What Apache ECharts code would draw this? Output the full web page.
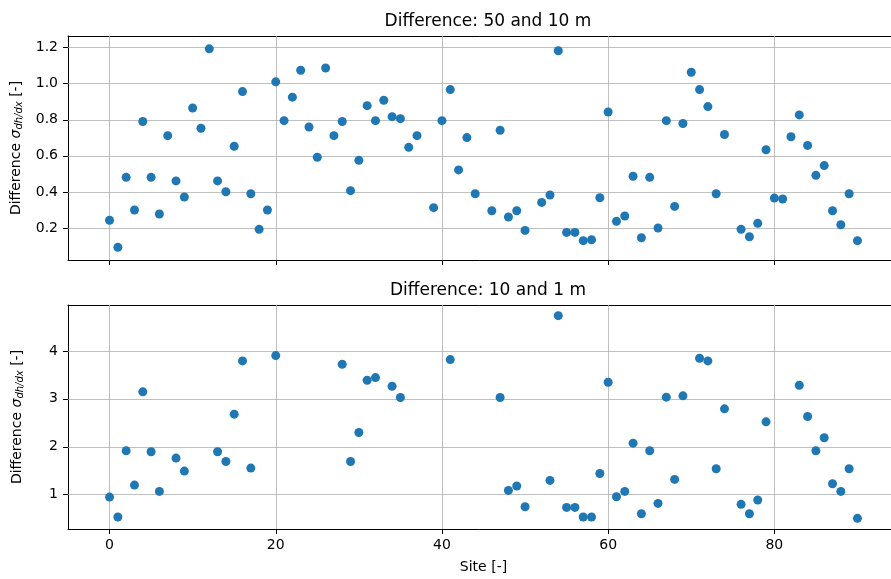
<!DOCTYPE html>
<html><head><meta charset="utf-8">
<script src="https://cdn.jsdelivr.net/npm/echarts@6/dist/echarts.min.js"></script>
<style>html,body{margin:0;padding:0;background:#fff}#c{width:891px;height:579px}</style>
</head><body><div id="c"></div>
<script>
const sites = [0,1,2,3,4,5,6,7,8,9,10,11,12,13,14,15,16,17,18,19,20,21,22,23,24,25,26,27,28,29,30,31,32,33,34,35,36,37,38,39,40,41,42,43,44,45,46,47,48,49,50,51,52,53,54,55,56,57,58,59,60,61,62,63,64,65,66,67,68,69,70,71,72,73,74,75,76,77,78,79,80,81,82,83,84,85,86,87,88,89,90];
const diff50_10 = [0.243,0.093,0.481,0.300,0.790,0.481,0.278,0.712,0.461,0.372,
 0.865,0.753,1.193,0.461,0.401,0.653,0.956,0.390,0.193,0.300,
 1.010,0.795,0.925,1.074,0.760,0.592,1.087,0.712,0.790,0.407,
 0.575,0.878,0.795,0.908,0.817,0.806,0.647,0.712,null,0.313,
 0.795,0.967,0.522,0.701,0.390,null,0.296,0.742,0.261,0.296,
 0.187,null,0.342,0.383,1.182,0.176,0.176,0.130,0.135,0.368,
 0.843,0.237,0.267,0.487,0.146,0.481,0.200,0.795,0.320,0.779,
 1.063,0.967,0.873,0.390,0.718,null,0.193,0.152,0.226,0.634,
 0.366,0.361,0.706,0.827,0.658,0.492,0.546,0.296,0.218,0.390,
 0.130];
const diff10_1 = [0.951,0.535,1.917,1.201,3.146,1.896,1.069,null,1.764,1.493,
 null,null,null,1.896,1.694,2.681,3.792,1.556,null,null,
 3.903,null,null,null,null,null,null,null,3.722,1.694,
 2.299,3.389,3.444,null,3.264,3.028,null,null,null,null,
 null,3.819,null,null,null,null,null,3.028,1.090,1.181,
 0.750,null,null,1.299,4.736,0.736,0.736,0.535,0.535,1.444,
 3.347,0.958,1.069,2.076,0.604,1.917,0.819,3.035,1.319,3.063,
 null,3.847,3.792,1.542,2.792,null,0.799,0.604,0.889,2.521,
 null,null,null,3.285,2.632,1.917,2.188,1.229,1.069,1.542,
 0.507];
const xTicks = [0,20,40,60,80];
const yTicksTop = [0.2,0.4,0.6,0.8,1.0,1.2];
const yTicksBottom = [1,2,3,4];
const titles = ['Difference: 50 and 10 m','Difference: 10 and 1 m'];

const FONT = 'DejaVu Sans';
const GRID = '#b0b0b0';
const XMIN = -5, XMAX = 95;
function pairs(vals){ const out=[]; sites.forEach((s,i)=>{ if(vals[i]!==null) out.push([s,vals[i]]); }); return out; }
function gridLines(yt){
  return {
    silent:true, symbol:'none', z:1, animation:false,
    label:{show:false},
    lineStyle:{color:GRID, width:0.8, type:'solid'},
    emphasis:{disabled:true},
    data: xTicks.map(v=>({xAxis:v})).concat(yt.map(v=>({yAxis:v})))
  };
}
function xAx(idx, showLabels){
  return {
    type:'value', gridIndex:idx, min:XMIN, max:XMAX, position:'bottom',
    axisLine:{show:true, onZero:false, lineStyle:{color:'#000', width:1}},
    axisTick:{show:true, customValues:xTicks, length:5, lineStyle:{color:'#000', width:1}},
    axisLabel:{show:showLabels, customValues:xTicks, color:'#000', fontFamily:FONT, fontSize:14, margin:9},
    splitLine:{show:false},
    name: showLabels ? 'Site [-]' : '', nameLocation:'middle', nameGap:31,
    nameTextStyle:{color:'#000', fontFamily:FONT, fontSize:14}
  };
}
function xTop(idx){
  return {
    type:'value', gridIndex:idx, min:XMIN, max:XMAX, position:'top',
    axisLine:{show:true, onZero:false, lineStyle:{color:'#000', width:1}},
    axisTick:{show:false}, axisLabel:{show:false}, splitLine:{show:false}
  };
}
const yName = '{n|Difference }{s|σ}{sub|dh/dx}{n| [-]}';
const yRich = {
  n:{fontFamily:FONT, fontSize:14, color:'#000'},
  s:{fontFamily:FONT, fontSize:14, fontStyle:'italic', color:'#000'},
  sub:{fontFamily:FONT, fontSize:10, fontStyle:'italic', color:'#000', padding:[6,0,0,0]}
};
function yAx(idx, min, max, ticks, fmt, gap){
  return {
    type:'value', gridIndex:idx, min:min, max:max,
    axisLine:{show:true, onZero:false, lineStyle:{color:'#000', width:1}},
    axisTick:{show:true, customValues:ticks, length:5, lineStyle:{color:'#000', width:1}},
    axisLabel:{customValues:ticks, color:'#000', fontFamily:FONT, fontSize:14, margin:10, formatter:fmt},
    splitLine:{show:false},
    name:yName, nameLocation:'middle', nameGap:gap, nameRotate:90,
    nameTextStyle:{rich:yRich}
  };
}
const chart = echarts.init(document.getElementById('c'), null, {renderer:'canvas'});
chart.setOption({
  animation:false,
  backgroundColor:'#fff',
  title:[
    {text:titles[0], left:483, top:8, textAlign:'center', textStyle:{fontFamily:FONT, fontSize:17, fontWeight:'normal', color:'#000'}},
    {text:titles[1], left:483, top:277, textAlign:'center', textStyle:{fontFamily:FONT, fontSize:17, fontWeight:'normal', color:'#000'}}
  ],
  grid:[
    {left:68, top:36, width:831, height:224, show:false, containLabel:false, outerBoundsMode:'none'},
    {left:68, top:305, width:831, height:224, show:false, containLabel:false, outerBoundsMode:'none'}
  ],
  xAxis:[xAx(0,false), xAx(1,true), xTop(0), xTop(1)],
  yAxis:[
    yAx(0, 0.023, 1.264, yTicksTop, v=>v.toFixed(1), 43),
    yAx(1, 0.285, 4.958, yTicksBottom, v=>String(Math.round(v)), 43)
  ],
  series:[
    {type:'scatter', xAxisIndex:0, yAxisIndex:0, data:pairs(diff50_10), symbolSize:9, itemStyle:{color:'#1f77b4', opacity:1}, z:3, markLine:gridLines(yTicksTop)},
    {type:'scatter', xAxisIndex:1, yAxisIndex:1, data:pairs(diff10_1), symbolSize:9, itemStyle:{color:'#1f77b4', opacity:1}, z:3, markLine:gridLines(yTicksBottom)}
  ]
});
</script></body></html>
